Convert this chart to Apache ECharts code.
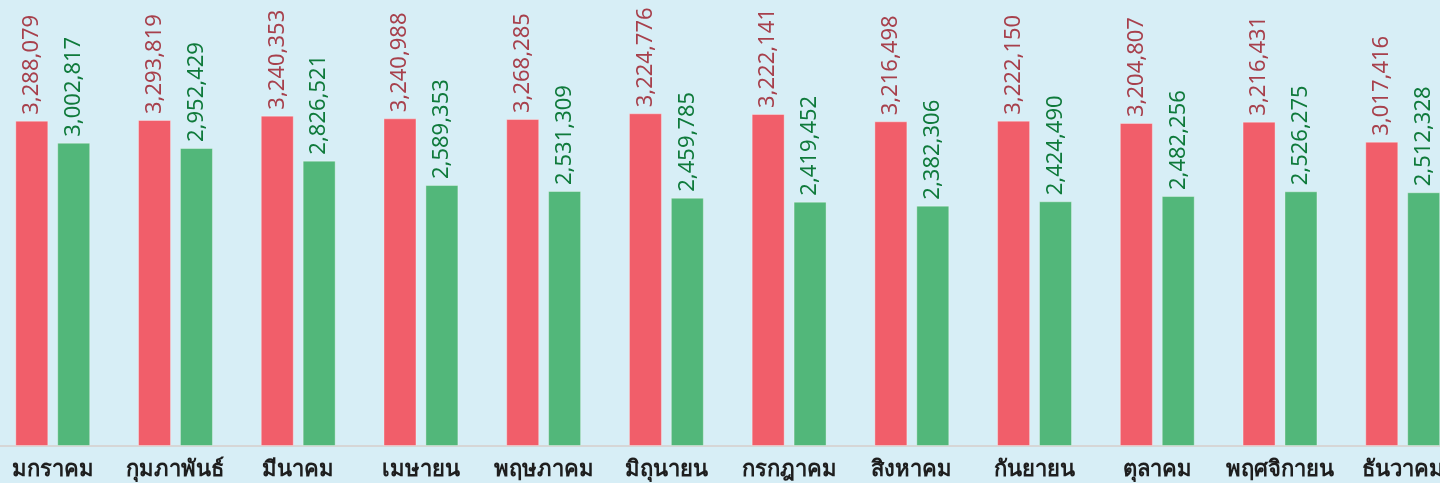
<!DOCTYPE html>
<html>
<head>
<meta charset="utf-8">
<script src="https://cdn.jsdelivr.net/npm/echarts@6/dist/echarts.min.js"></script>
<style>
  html, body { margin: 0; padding: 0; background: #d7eef6; }
  #chart { width: 1440px; height: 483px; }
</style>
</head>
<body>
<div id="chart"></div>
<script>
// หมวดหมู่ (เดือน)
const months = ['มกราคม', 'กุมภาพันธ์', 'มีนาคม', 'เมษายน', 'พฤษภาคม', 'มิถุนายน',
  'กรกฎาคม', 'สิงหาคม', 'กันยายน', 'ตุลาคม', 'พฤศจิกายน', 'ธันวาคม']

// ตัวเลขที่แสดงบนแท่ง
const redLabels = [3288079, 3293819, 3240353, 3240988, 3268285, 3224776,
  3222141, 3216498, 3222150, 3204807, 3216431, 3017416]
const greenLabels = [3002817, 2952429, 2826521, 2589353, 2531309, 2459785,
  2419452, 2382306, 2424490, 2482256, 2526275, 2512328]

// ความสูงแท่งที่อ่านจากภาพ
const redBars = [3282000, 3289000, 3333000, 3306000, 3299000, 3357000,
  3350000, 3276000, 3282000, 3259000, 3272000, 3070000]
const greenBars = [3060000, 3007000, 2879000, 2633000, 2573000, 2505000,
  2465000, 2425000, 2469000, 2522000, 2570000, 2560000]

const fmt = n => n.toLocaleString('en-US')

function barLabel(labels, color) {
  return {
    show: true,
    position: 'top',
    rotate: 90,
    align: 'left',
    verticalAlign: 'middle',
    distance: 6,
    color: color,
    fontSize: 22,
    fontFamily: '"Noto Sans", sans-serif',
    formatter: p => fmt(labels[p.dataIndex])
  }
}

const chart = echarts.init(document.getElementById('chart'))
chart.setOption({
  backgroundColor: '#d7eef6',
  animation: false,
  grid: { left: -8.6, right: -24.1, top: 0, bottom: 37, outerBoundsMode: 'none', containLabel: false },
  xAxis: {
    type: 'category',
    data: months,
    axisLine: { lineStyle: { color: '#d6d6d6', width: 2 } },
    axisTick: { show: false },
    axisLabel: {
      color: '#1e1e1e',
      fontSize: 22,
      fontWeight: 'bold',
      margin: 13,
      interval: 0
    }
  },
  yAxis: {
    type: 'value',
    min: 0,
    max: 4500000,
    show: false,
    splitLine: { show: false }
  },
  series: [
    {
      type: 'bar',
      data: redBars,
      barWidth: 33,
      barGap: '27%',
      itemStyle: { color: '#f15e6a', borderColor: 'rgba(255,255,255,0.35)', borderWidth: 1 },
      label: barLabel(redLabels, '#a7404c')
    },
    {
      type: 'bar',
      data: greenBars,
      barWidth: 33,
      itemStyle: { color: '#52b77a', borderColor: 'rgba(255,255,255,0.35)', borderWidth: 1 },
      label: barLabel(greenLabels, '#0f7a3b')
    }
  ]
})
</script>
</body>
</html>
